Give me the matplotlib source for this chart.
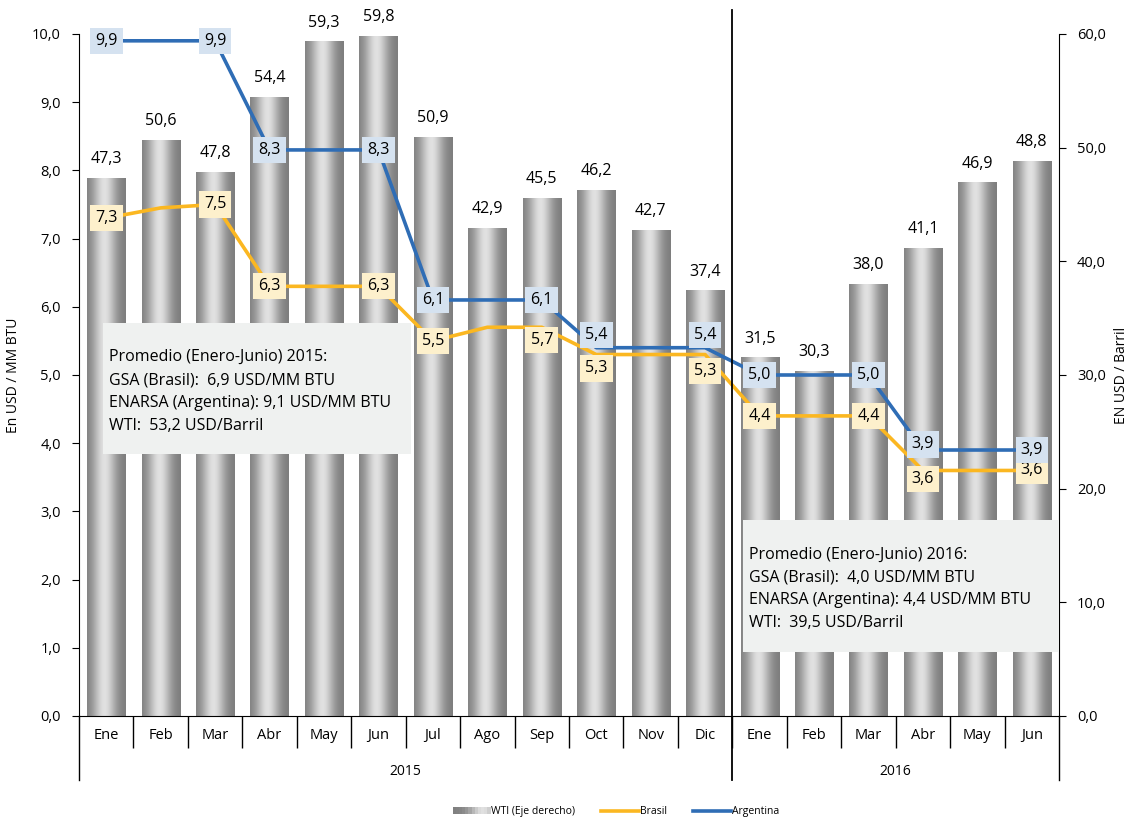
import matplotlib
matplotlib.use('Agg')
import matplotlib.pyplot as plt
import numpy as np
from matplotlib.ticker import FuncFormatter
from matplotlib.patches import Rectangle
from matplotlib.lines import Line2D
from matplotlib.legend_handler import HandlerBase

plt.rcParams['font.family'] = ['Open Sans', 'DejaVu Sans']

months = ['Ene', 'Feb', 'Mar', 'Abr', 'May', 'Jun', 'Jul', 'Ago', 'Sep', 'Oct', 'Nov', 'Dic',
          'Ene', 'Feb', 'Mar', 'Abr', 'May', 'Jun']
years = ['2015', '2016']
wti = [47.3, 50.6, 47.8, 54.4, 59.3, 59.8, 50.9, 42.9, 45.5, 46.2, 42.7, 37.4,
       31.5, 30.3, 38.0, 41.1, 46.9, 48.8]
brasil = [7.3, 7.45, 7.5, 6.3, 6.3, 6.3, 5.5, 5.7, 5.7, 5.3, 5.3, 5.3,
          4.4, 4.4, 4.4, 3.6, 3.6, 3.6]
argentina = [9.9, 9.9, 9.9, 8.3, 8.3, 8.3, 6.1, 6.1, 6.1, 5.4, 5.4, 5.4,
             5.0, 5.0, 5.0, 3.9, 3.9, 3.9]
# which months get a value box on the lines
labelled = [0, 2, 3, 5, 6, 8, 9, 11, 12, 14, 15, 17]
# small vertical shifts (points) of the value boxes where the two lines are close
arg_shift = {9: 9, 11: 9, 15: 4}
bra_shift = {8: -9, 9: -10, 11: -12, 15: -6}

box_2015 = ["Promedio (Enero-Junio) 2015:", "GSA (Brasil):  6,9 USD/MM BTU",
            "ENARSA (Argentina): 9,1 USD/MM BTU", "WTI:  53,2 USD/Barril"]
box_2016 = ["Promedio (Enero-Junio) 2016:", "GSA (Brasil):  4,0 USD/MM BTU",
            "ENARSA (Argentina): 4,4 USD/MM BTU", "WTI:  39,5 USD/Barril"]

c_bra = '#fbb721'
c_arg = '#2f6db5'
bg_bra = '#fdf0cc'
bg_arg = '#d5e2f0'
bg_box = '#eff1f0'

fmt = FuncFormatter(lambda v, p: f"{v:.1f}".replace('.', ','))

fig = plt.figure(figsize=(11.3, 8.21), dpi=100)
ax = fig.add_axes([0.0699, 0.1279, 0.8673, 0.8307])
ax2 = ax.twinx()
ax.set_zorder(ax2.get_zorder() + 1)
ax.patch.set_visible(False)

x = np.arange(len(months))
n = len(months)

# gradient bars on right axis
grad_x = np.linspace(0, 1, 64)
grad = 0.48 + 0.40 * np.exp(-((grad_x - 0.45) / 0.30) ** 2)
grad_img = np.tile(grad, (2, 1))
w = 0.7
for xi, v in zip(x, wti):
    ax2.imshow(grad_img, cmap='gray', vmin=0, vmax=1, aspect='auto',
               extent=[xi - w / 2, xi + w / 2, 0, v], zorder=1, interpolation='bilinear')
    ax2.text(xi, v + 1.0, f"{v:.1f}".replace('.', ','), ha='center', va='bottom', fontsize=11.5)
ax2.set_xlim(-0.5, n - 0.5)
ax2.set_ylim(0, 60)
ax2.set_yticks(np.arange(0, 61, 10))
ax2.yaxis.set_major_formatter(fmt)
ax2.tick_params(axis='y', direction='out', length=5, labelsize=10.5, pad=8)
ax2.set_ylabel('EN USD / Barril', fontsize=10, labelpad=6)

# lines on left axis
ax.plot(x, brasil, color=c_bra, lw=2.6, zorder=5, solid_joinstyle='round')
ax.plot(x, argentina, color=c_arg, lw=2.6, zorder=6, solid_joinstyle='round')
for i in labelled:
    ax.annotate(f"{argentina[i]:.1f}".replace('.', ','), (x[i], argentina[i]),
                xytext=(0, arg_shift.get(i, 0)), textcoords='offset points',
                ha='center', va='center', fontsize=11.5, zorder=8, annotation_clip=False,
                bbox=dict(boxstyle='square,pad=0.32', fc=bg_arg, ec='none'))
    ax.annotate(f"{brasil[i]:.1f}".replace('.', ','), (x[i], brasil[i]),
                xytext=(0, bra_shift.get(i, 0)), textcoords='offset points',
                ha='center', va='center', fontsize=11.5, zorder=7, annotation_clip=False,
                bbox=dict(boxstyle='square,pad=0.32', fc=bg_bra, ec='none'))

# summary boxes
for (x0, x1, y0, y1, lines) in [(-0.06, 5.6, 3.84, 5.76, box_2015), (11.69, 17.5, 0.94, 2.87, box_2016)]:
    ax.add_patch(Rectangle((x0, y0), x1 - x0, y1 - y0, fc=bg_box, ec='none', zorder=3))
    ty = y1 - 0.5
    for k, t in enumerate(lines):
        ax.text(x0 + 0.12, ty - k * 0.335, t, fontsize=11.5, va='center', ha='left', zorder=4)

ax.set_xlim(-0.5, n - 0.5)
ax.set_ylim(0, 10)
ax.set_yticks(np.arange(0, 10.1, 1))
ax.yaxis.set_major_formatter(fmt)
ax.tick_params(axis='y', direction='out', length=5, labelsize=10.5, pad=8)
ax.set_ylabel('En USD / MM BTU', fontsize=10, labelpad=8)
ax.set_xticks(x)
ax.set_xticklabels(months, fontsize=10.5)
ax.tick_params(axis='x', length=0, pad=9)
ax.set_xticks(np.arange(0.5, n - 1, 1), minor=True)
ax.tick_params(axis='x', which='minor', direction='out', length=23, width=1)
ax2.tick_params(axis='x', length=0, labelbottom=False)

for a in (ax, ax2):
    a.spines['top'].set_visible(False)
ax2.spines['left'].set_visible(False)
ax2.spines['bottom'].set_visible(False)
ax.spines['right'].set_visible(False)

# category frame below axis
trans = ax.get_xaxis_transform()
ax.plot([-0.5, -0.5], [0, -0.094], transform=trans, color='black', lw=1, clip_on=False)
ax.plot([n - 0.5, n - 0.5], [0, -0.094], transform=trans, color='black', lw=1, clip_on=False)
ax.plot([11.5, 11.5], [-0.094, 1.035], transform=trans, color='black', lw=1.3, clip_on=False, zorder=9)
ax.text(5.5, -0.082, years[0], transform=trans, ha='center', va='center', fontsize=10)
ax.text(14.5, -0.082, years[1], transform=trans, ha='center', va='center', fontsize=10)


class GradHandler(HandlerBase):
    def create_artists(self, legend, orig, xd, yd, width, height, fontsize, trans):
        arts = []
        k = 12
        for j in range(k):
            g = 0.50 + 0.38 * np.exp(-(((j + 0.5) / k - 0.8) / 0.35) ** 2)
            arts.append(Rectangle((xd + width * j / k, yd), width / k + 0.3, height,
                                  fc=(g, g, g), ec='none', transform=trans))
        return arts


grad_handle = Rectangle((0, 0), 1, 1)
handles = [grad_handle,
           Line2D([], [], color=c_bra, lw=2.6),
           Line2D([], [], color=c_arg, lw=2.6)]
fig.legend(handles, ['WTI (Eje derecho)', 'Brasil', 'Argentina'],
           handler_map={grad_handle: GradHandler()}, loc='center',
           bbox_to_anchor=(0.545, 0.011), ncol=3, frameon=False, fontsize=7.5,
           handlelength=3.6, columnspacing=2.5, handletextpad=0.1)

fig.savefig('out.png', dpi=100)
